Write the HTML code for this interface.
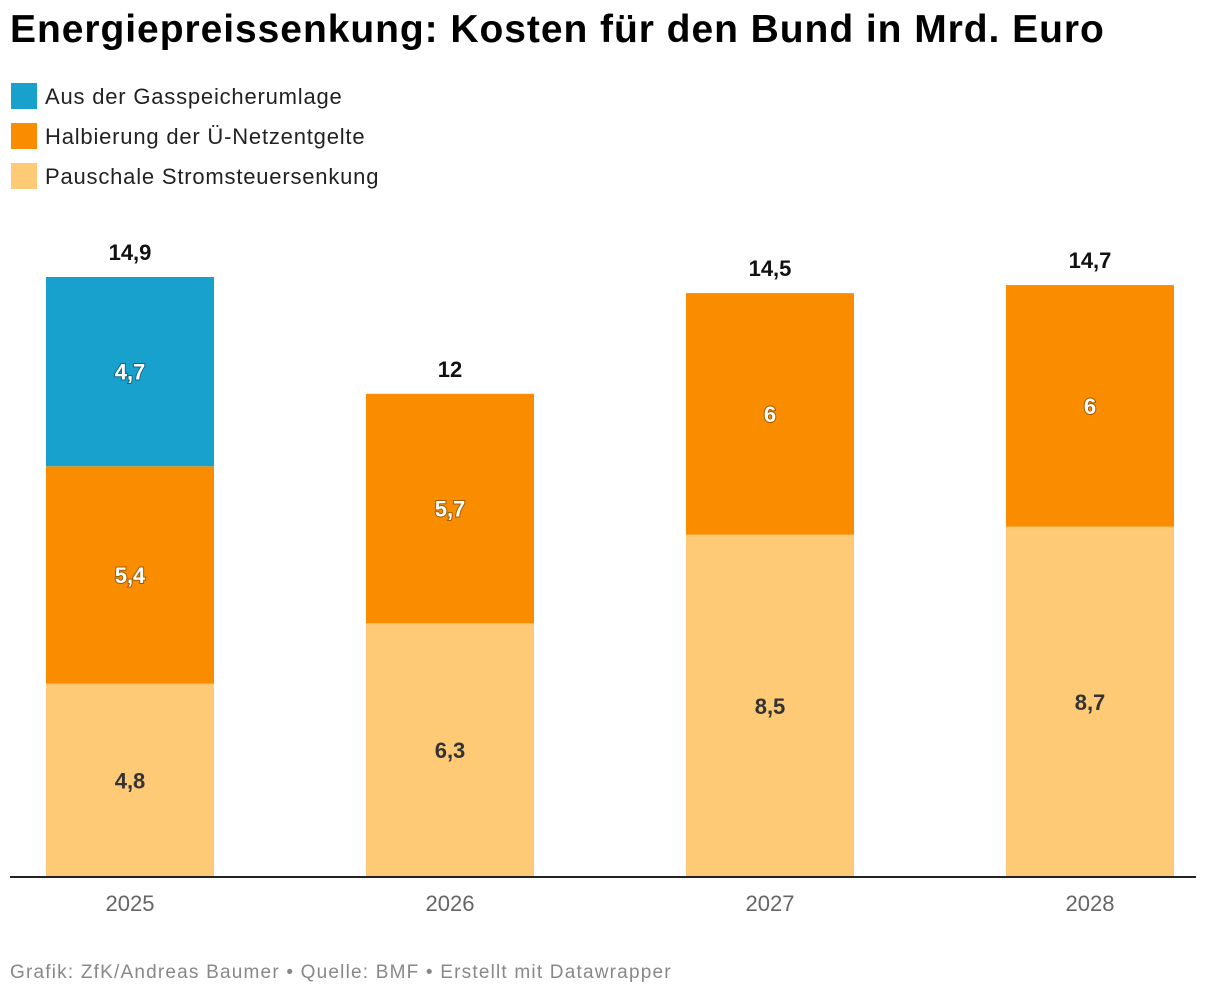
<!DOCTYPE html>
<html><head><meta charset="utf-8">
<style>
body{margin:0;background:#fff;font-family:"Liberation Sans",Arial,sans-serif;}
#wrap{position:relative;width:1220px;height:1000px;overflow:hidden;}
h1{position:absolute;left:10px;top:8px;margin:0;font-size:39px;font-weight:bold;color:#000;letter-spacing:0.95px;}
.leg{position:absolute;left:11px;font-size:22px;color:#222;height:28px;line-height:28px;letter-spacing:0.8px;}
.leg span.sw{display:inline-block;width:26px;height:26px;vertical-align:top;margin-right:8px;}
#foot{position:absolute;left:10px;top:962px;font-size:19px;color:#888;letter-spacing:1.2px;}
</style></head><body>
<div id="wrap">
<h1>Energiepreissenkung: Kosten für den Bund in Mrd. Euro</h1>
<div class="leg" style="top:83px"><span class="sw" style="background:#18a1cd"></span>Aus der Gasspeicherumlage</div>
<div class="leg" style="top:123px"><span class="sw" style="background:#fa8c00"></span>Halbierung der Ü-Netzentgelte</div>
<div class="leg" style="top:163px"><span class="sw" style="background:#ffca76"></span>Pauschale Stromsteuersenkung</div>
<svg id="chart" width="1220" height="1000" style="position:absolute;left:0;top:0"></svg>
<div id="foot">Grafik: ZfK/Andreas Baumer • Quelle: BMF • Erstellt mit Datawrapper</div>
</div>
<script>
const years=["2025","2026","2027","2028"];
const strom=[4.8,6.3,8.5,8.7];
const netz=[5.4,5.7,6,6];
const gas=[4.7,0,0,0];
const totals=["14,9","12","14,5","14,7"];
const svg=document.getElementById('chart');
const NS="http://www.w3.org/2000/svg";
const base=877, scale=600/14.9, x0=46, step=320, bw=168;
function y(v){return base-v*scale;}
function fmt(v){return String(v).replace('.',',');}
function el(t,a){const e=document.createElementNS(NS,t);for(const k in a)e.setAttribute(k,a[k]);svg.appendChild(e);return e;}
const series=[{v:strom,c:"#ffca76",tc:"#333",n:"stromsteuer"},{v:netz,c:"#fa8c00",tc:"#fff",n:"netzentgelte"},{v:gas,c:"#18a1cd",tc:"#fff",n:"gasspeicher"}];
years.forEach((yr,i)=>{
  let cum=0;const x=x0+i*step;
  series.forEach(s=>{
    const v=s.v[i]; if(!v)return;
    const r=el('rect',{x:x,y:y(cum+v),width:bw,height:v*scale,fill:s.c});
    
    
    const t=el('text',{x:x+bw/2,y:y(cum+v/2)+8,'text-anchor':'middle','font-size':22,'font-weight':'bold',fill:s.tc,style:s.tc=="#fff"?"paint-order:stroke;stroke:rgba(0,0,0,0.35);stroke-width:2px":""});
    t.textContent=fmt(v);
    
    
    cum+=v;
  });
  const tt=el('text',{x:x+bw/2,y:y(cum)-17,'text-anchor':'middle','font-size':22,'font-weight':'bold',fill:'#111'});
  tt.textContent=totals[i];
  
  
  const xl=el('text',{x:x+bw/2,y:911,'text-anchor':'middle','font-size':22,fill:'#666'});
  xl.textContent=yr;
  
  
});
const ax=el('line',{x1:10,x2:1196,y1:base,y2:base,stroke:'#222','stroke-width':2});


</script>
</body></html>
